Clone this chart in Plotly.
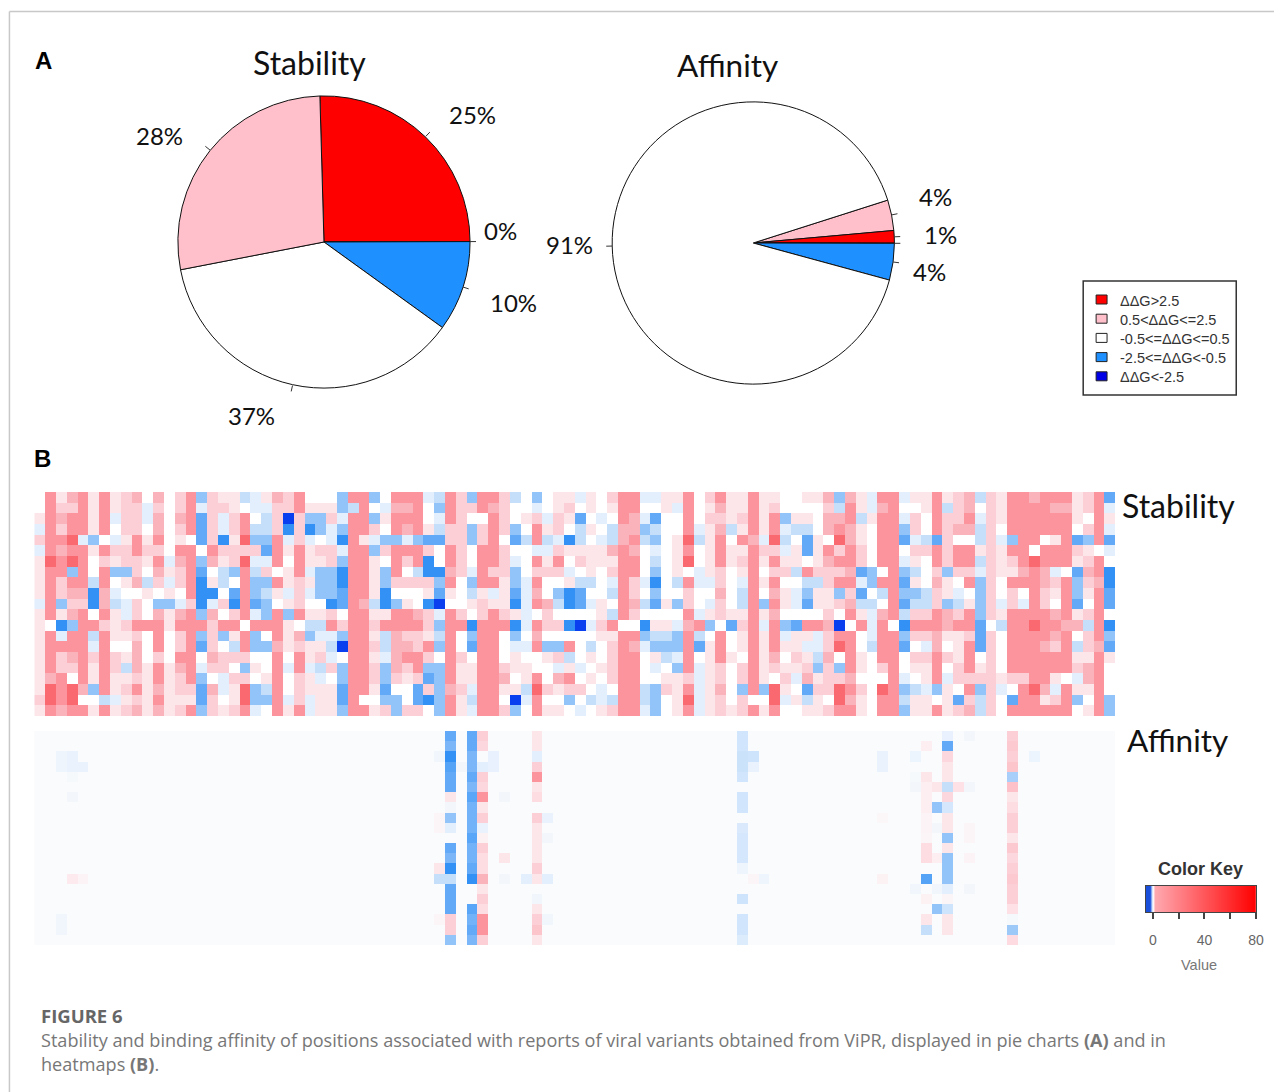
import math
import plotly.graph_objects as go

W, H = 1282, 1092

# ---- pie data -------------------------------------------------------------
CLASS_LABELS = ["ΔΔG>2.5", "0.5<ΔΔG<=2.5", "-0.5<=ΔΔG<=0.5", "-2.5<=ΔΔG<-0.5", "ΔΔG<-2.5"]
CLASS_COLORS = ["#ff0000", "#ffc0cb", "#ffffff", "#1e90ff", "#0000e6"]

STABILITY_CLASSES = [0, 4, 3, 2, 1]
STABILITY_VALUES = [25.4, 0, 10.0, 37.0, 27.6]
STABILITY_TEXT = ["25%", "0%", "10%", "37%", "28%"]
STABILITY_START = -1.6

AFFINITY_CLASSES = [1, 0, 4, 3, 2]
AFFINITY_VALUES = [3.5, 1.45, 0, 4.2, 90.85]
AFFINITY_TEXT = ["4%", "1%", "", "4%", "91%"]
AFFINITY_START = 72.3

# ---- heatmap data: colour level per cell (negative = blue, positive = red) --
STABILITY_HEAT = [
 [0,4,1,3,4,1,4,1,2,3,0,3,0,2,4,-3,2,1,1,-2,-1,1,3,2,4,0,0,0,-3,4,4,-3,0, 4, 4,4,-1,-2,4,2,-3,4,4,2,-2,0,-3,0,1,1,-1,1,0,2,4,4,-1,-1,1,1,4,0,2,4,1,1,4, 1,1,0,0,1,1,3,-3,3,1,-1,4,4,-1,1,1,4,1,2,3,-2,2,1,4,4,3,4,4,4,1,2,4,-4],
 [0,4,2,2,4,1,4,1,2,2,-1,2,0,2,4,-1,2,2,1,0,-1,-1,2,2,4,1,1,1,-3,-2,4,0,-1, 3, 3,4,0,-3,4,2,2,4,3,2,0,0,-1,0,1,2,0,1,0,1,4,4,0,0,1,-1,4,0,1,3,1,1,4, 1,2,0,0,0,0,2,-2,4,1,-1,3,4,0,0,1,4,-2,2,3,0,2,1,4,4,4,4,3,3,1,2,4,-1],
 [1,4,3,4,4,1,4,-1,2,2,-1,3,0,3,4,-4,2,-1,2,4,0,-2,2,-6,2,-3,-3,2,-1,4,4,-3,1, 4, 4,4,0,-1,4,2,0,0,4,2,0,1,2,-1,2,1,-4,0,-1,0,4,3,-1,-4,0,0,4,0,2,2,1,2,4, 1,4,-3,1,1,0,3,3,4,-2,1,4,4,-1,2,0,4,2,2,4,-1,2,1,4,4,4,4,4,4,1,0,4,1],
 [-1,4,2,4,4,1,4,0,2,2,0,3,0,2,4,-4,2,-1,2,4,-2,-2,2,-5,2,-5,-3,-1,-3,4,4,2,0, 4, 3,4,1,-2,2,2,-3,2,4,2,-3,0,4,1,2,0,-2,1,0,-2,3,3,-3,-2,0,0,4,-1,1,3,-2,1,4, 1,4,-1,-2,-2,0,3,4,3,1,0,4,4,-3,2,0,4,2,3,3,-2,2,0,4,4,4,4,4,4,0,2,4,-1],
 [2,4,4,5,-1,-3,0,-1,1,4,1,4,0,1,0,-4,2,-5,1,5,-3,-3,4,-1,2,-1,0,-1,-5,4,1,-1,-3, -3, -1,-3,-4,-4,2,2,-3,2,4,0,-4,-2,4,-2,-1,-5,-2,0,-1,-2,3,4,-2,-3,0,1,5,-2,1,4,0,4,3, -1,5,-2,0,-4,1,0,5,3,1,0,4,4,-4,-1,-2,-4,2,0,0,-2,2,-1,-3,4,4,0,1,4,-4,-3,4,-4],
 [-1,4,3,4,4,1,4,2,2,4,2,2,0,4,4,0,4,2,2,2,2,-4,4,1,4,1,2,2,-1,4,4,-3,2, 4, 4,4,2,0,4,2,0,4,4,2,0,0,-1,-1,2,1,1,1,1,3,4,3,0,-1,0,1,4,0,1,4,1,1,4, 2,2,-1,1,-4,1,4,2,4,2,0,4,4,0,2,2,4,2,4,4,1,2,1,4,4,0,4,4,4,2,1,0,-1],
 [1,5,4,5,4,0,2,1,2,2,1,4,-1,3,4,-3,3,1,2,5,-1,-1,4,0,4,1,1,2,-3,4,4,1,0, 4, 2,4,-5,0,4,2,0,4,4,2,-1,0,4,1,4,0,2,1,1,1,4,4,0,-2,0,1,5,0,1,4,1,2,4, 1,4,1,1,0,1,3,4,4,2,0,4,4,-1,1,0,4,2,4,4,-2,2,1,2,4,5,4,4,4,1,2,4,0],
 [1,4,4,-3,4,0,4,-3,-3,2,0,3,1,2,4,-4,0,-2,-3,4,-2,2,0,1,4,-1,-3,-3,-5,4,4,1,-3, 4, 0,-2,-5,-5,3,2,-1,4,2,2,-3,0,2,2,2,-1,0,1,0,2,4,4,0,-3,0,1,0,-1,1,2,0,1,4, 0,2,2,-2,4,2,2,2,3,-4,-3,0,4,-3,-2,0,2,-3,2,2,-1,2,1,1,3,4,3,-1,0,-4,3,4,-5],
 [1,4,2,4,4,-2,4,0,1,3,-2,2,-1,2,4,-5,1,-2,0,4,-3,-3,4,1,2,1,-3,-3,-5,4,4,1,-3, 2, 2,2,2,-3,4,0,-3,4,4,1,-3,-1,4,0,0,1,-2,-2,0,-1,4,2,-1,-5,0,-2,4,-1,-1,2,0,-1,4, 1,4,0,0,-2,-2,2,4,4,-1,-3,4,4,-4,1,0,3,1,0,4,-3,2,0,4,4,4,3,2,4,-3,2,3,-5],
 [1,4,2,3,3,-5,3,-1,0,0,1,0,1,0,4,-5,-5,0,-4,4,-3,-2,1,-1,2,-1,-3,-3,-4,4,4,1,-5, 0, 0,0,1,-4,1,0,-2,1,-1,1,-4,-1,3,0,-3,-5,-4,0,0,-2,4,2,0,-3,0,0,2,0,0,3,0,-2,4, 0,3,1,-1,-3,1,1,-3,2,-4,0,-2,4,-3,-3,-2,2,1,-1,0,-3,2,0,2,0,4,2,1,4,-3,1,4,-4],
 [-1,4,-3,2,2,-5,3,-2,-1,2,0,-3,-3,-1,2,-5,-1,2,-5,4,-4,-3,0,1,2,0,0,-5,-4,4,3,-2,-5, -3, 1,0,-5,-6,0,0,1,2,1,1,-5,-1,4,3,-2,-5,-4,-1,1,0,4,3,-2,-4,1,-3,2,0,-1,2,0,-2,4, -3,4,1,-1,-4,1,1,2,3,-2,-2,0,4,-4,-2,-2,2,-3,-2,1,-3,2,-1,2,-1,4,2,0,4,-4,0,4,-4],
 [1,4,1,3,4,0,4,1,-1,2,0,3,1,3,4,-3,3,0,2,4,-1,-3,4,-3,4,1,1,2,0,4,4,1,1, 4, 4,3,2,-1,4,2,0,2,4,2,1,-1,0,2,0,0,0,0,1,-2,4,2,0,0,0,0,4,-1,1,2,1,1,4, 1,3,0,0,0,0,2,0,4,1,-1,3,4,-2,2,2,4,3,2,4,-3,2,1,4,4,4,4,3,4,1,2,4,0],
 [1,0,-5,-3,4,4,2,1,2,4,4,4,1,4,4,4,2,4,4,0,4,4,4,1,0,-2,-2,4,2,4,4,2,4, 4, 4,4,2,-3,4,4,-5,4,4,4,-5,-1,4,2,2,-5,-6,-1,2,4,0,0,-5,1,1,-1,3,4,-3,0,-4,2,4, -1,4,-3,-4,4,4,3,-6,0,4,-1,4,0,-5,4,4,4,3,4,4,-4,0,-2,4,4,5,4,4,3,3,-2,4,-5],
 [1,4,-1,4,4,-2,4,1,1,2,0,4,0,2,4,-3,2,-3,1,4,-3,0,4,1,3,-3,-1,-1,-3,4,4,1,-2, 3, 2,2,1,-2,4,0,-3,4,4,0,-3,0,3,0,0,0,0,0,1,1,4,4,-3,-2,-2,-3,4,-2,0,4,0,1,4, 1,4,-1,1,1,-1,2,4,4,0,-1,4,4,-3,2,2,3,1,1,2,-4,2,0,4,4,4,4,3,4,0,2,4,-3],
 [1,4,4,4,4,-1,4,0,0,3,0,4,0,2,4,-4,2,0,-2,4,-3,-3,3,1,2,1,1,-2,-6,4,4,2,-2, 3, 3,2,4,-3,4,0,-4,4,4,0,-1,-1,4,-3,-3,4,0,-2,0,2,4,3,-1,-3,-3,-3,4,-4,1,4,0,1,4, 1,4,1,1,-1,-1,2,5,4,0,-2,4,4,-4,0,-1,3,0,1,4,-4,2,0,4,4,4,3,2,4,-2,2,3,-4],
 [1,4,2,3,4,2,4,2,1,3,0,2,0,4,4,0,3,2,2,2,0,0,4,0,4,1,2,-1,0,4,4,1,-1, 3, 4,4,2,0,4,2,0,4,4,0,1,0,0,1,2,-2,0,1,0,2,4,4,0,1,-2,-1,4,0,1,4,1,0,4, 1,3,0,2,1,-2,3,0,4,1,0,4,4,0,2,2,4,2,1,4,0,2,0,4,4,4,4,4,4,1,1,4,1],
 [1,4,2,2,4,1,4,2,-2,3,1,4,1,3,4,-1,2,2,0,-3,1,0,4,-1,4,-1,-2,2,-3,4,4,2,-3, 3, 2,4,-3,-3,4,1,1,4,4,2,1,1,0,0,-1,1,-1,0,1,2,4,4,0,-1,0,-3,4,-1,1,2,0,2,4, 1,2,1,1,2,-3,2,-3,4,1,0,2,4,0,1,1,4,0,2,4,1,2,0,4,4,4,4,4,4,2,3,4,0],
 [1,3,4,0,4,1,4,1,1,2,1,4,1,2,4,-3,0,-1,2,2,0,1,4,0,2,1,-1,0,-3,4,4,2,-3, 2, 1,2,-4,-3,4,1,1,4,4,3,0,1,4,0,3,4,0,1,0,2,4,4,0,0,1,1,2,-1,1,2,0,2,4, 1,0,2,-1,3,1,2,2,3,0,0,0,4,-1,0,1,4,-1,2,2,2,2,1,2,2,4,4,1,0,-1,3,4,0],
 [1,5,4,5,3,-3,4,1,2,4,1,3,1,2,2,-4,3,-1,1,5,-3,-2,4,0,2,1,1,1,-4,4,4,1,-4, 0, 0,-4,2,-3,3,2,-1,4,4,1,1,-2,5,2,1,2,2,0,-1,0,4,4,-2,-3,2,1,4,-1,1,3,0,-3,4, -3,5,1,0,-4,2,2,5,4,2,0,5,4,-3,-2,-1,-3,1,0,4,-3,2,-1,0,4,5,3,-1,4,1,1,4,0],
 [2,5,4,5,0,0,-2,-1,1,2,1,4,1,1,1,-4,2,0,1,5,-3,-3,4,-1,2,-1,1,1,-4,4,0,0,-3, -3, 0,-4,-5,-3,4,1,-2,4,4,0,-6,-1,4,0,0,-3,0,-2,-1,-2,4,4,-2,-3,0,1,5,-1,1,2,0,2,0, 0,5,-1,1,-2,1,0,5,3,1,0,4,4,-2,1,1,0,1,-4,2,-2,2,0,-4,4,4,1,2,4,-3,0,4,-3],
 [1,4,3,4,4,1,4,1,2,3,1,3,1,2,4,-3,2,1,2,4,-1,0,4,1,4,-1,1,1,-3,4,4,1,2, -3, 2,2,0,-3,4,1,-1,4,4,2,-3,0,4,1,1,0,-1,0,1,2,4,4,-1,-3,0,1,4,-1,1,2,1,2,4, 1,4,0,0,1,1,2,4,4,1,0,4,4,-3,1,1,4,1,2,3,-2,2,0,4,4,4,4,4,4,0,1,4,-3],
]
for _r in STABILITY_HEAT:
    assert len(_r) == 100, len(_r)

# affinity is almost empty: column index -> its 21 rows
AFFINITY_COLUMNS = {
 2:  [0,0,-.5,-.5,0,0,0,0,0,0,0,0,0,0,0,0,0,0,-.4,-.4,0],
 3:  [0,0,-.7,-.7,-.2,0,-.3,0,0,0,0,0,0,0,.8,0,0,0,0,0,0],
 4:  [0,0,0,-.7,0,0,0,0,0,0,0,0,0,0,.4,0,0,0,0,0,0],
 37: [0,0,-.4,0,0,0,0,0,.3,.3,0,0,0,1,-2,0,0,0,.3,0,0],
 38: [-4,-3.5,-5,-4.3,-4,-4,1,-.3,-3,-1,0,-4,-3.5,-5,-2,-4,-4,-4,2,2,-3],
 39: [0,0,0,-.3,0,0,0,0,0,0,0,0,0,0,0,0,0,0,0,0,0],
 40: [-4,-4,-3.5,-3.5,-4,-3.5,-4.2,-3.7,-3.7,-3.7,-4.2,-3.7,-3.7,-4,-5,0,0,-4.2,-3.7,-4,-3.5],
 41: [2,1.6,0,-1,2,1.6,4,1,2,-.7,.5,2,1.4,1.4,3,1,2,1.4,4,4,2],
 42: [0,0,-.8,-.8,0,0,0,0,0,0,0,0,0,0,0,0,0,0,0,0,0],
 43: [0,0,0,0,0,0,-.3,0,0,0,0,0,1,0,-.3,0,0,0,0,0,0],
 45: [0,0,0,0,0,0,0,0,0,0,0,0,0,0,-1,0,0,0,0,0,0],
 46: [1,1,-1,2,4,1,1.4,0,2,1,1,1,1,2,1,0,-.4,1,2,2.4,1],
 47: [0,0,0,0,0,0,0,0,-.7,0,-.3,0,0,0,-1,0,0,0,-.4,0,0],
 65: [-1.6,-1.6,-1.8,-1.8,-1.6,0,-1.6,-1.6,0,-1.3,-1.5,-1.5,-1.5,-.5,0,0,-1.7,0,-1.6,-1.6,-1.2],
 66: [0,0,-1.7,-.7,0,0,0,0,0,0,0,0,0,0,.3,0,0,0,0,0,0],
 67: [0,0,0,0,0,0,0,0,0,0,0,0,0,0,-.5,0,0,0,0,0,0],
 78: [0,0,-.7,-.7,0,0,0,0,.2,0,0,0,0,0,.5,0,0,0,0,0,0],
 81: [0,0,-.6,0,-.2,-.3,0,0,0,0,0,0,0,0,0,-.4,0,0,0,0,0],
 82: [0,.6,0,0,1,.6,.6,.6,.4,.4,.3,1.4,1.4,0,-4.3,0,.5,0,1,-2,0],
 83: [0,0,0,0,0,1,0,-3,0,-.3,0,0,.6,0,0,-.4,0,-3,0,0,0],
 84: [-.8,-4,1.6,1,1,-2,1.6,-1.5,1,1,-3,1,-3,-3,-3,-1,.3,-1.7,1,1,0],
 85: [0,0,0,0,0,1.2,0,0,0,0,0,0,0,0,0,0,0,0,0,0,0],
 86: [-.3,0,0,0,0,-.3,0,0,0,.3,.3,0,.4,0,0,-.3,0,0,0,0,0],
 90: [2,2.2,2,2.4,-2.6,2.5,1,1.4,2,2,1,2.2,1.6,2,2.2,2,2,1.2,-.2,-2.8,1.5],
 92: [0,0,-.6,0,0,0,0,0,0,0,0,0,0,0,0,0,0,0,0,0,0],
}
N_COLS, N_ROWS = 100, 21

# ---- colour key data --------------------------------------------------------
KEY_VALUES = [-5.4, -2.5, -1, 0.3, 1.5, 10, 40, 80]
KEY_TICKS = [0, 20, 40, 60, 80]
KEY_TICK_TEXT = ["0", "", "40", "", "80"]

CAPTION_HEAD = "FIGURE 6"
CAPTION_LINES = [
    "Stability and binding affinity of positions associated with reports of viral variants obtained from ViPR, displayed in pie charts <b>(A)</b> and in",
    "heatmaps <b>(B)</b>.",
]

# ---- helpers -----------------------------------------------------------------
fx = lambda px: px / W
fy = lambda py: 1 - py / H
annotations, shapes = [], []


def text(px, py, s, size, color="#111111", family="Lato", anchor="center", va="middle"):
    annotations.append(dict(x=fx(px), y=fy(py), xref="paper", yref="paper", text=s, showarrow=False,
                            xanchor=anchor, yanchor=va, align="left",
                            font=dict(size=size, color=color, family=family)))


def line(x0, y0, x1, y1, color, width=1):
    shapes.append(dict(type="line", xref="paper", yref="paper", x0=fx(x0), y0=fy(y0), x1=fx(x1), y1=fy(y1),
                       line=dict(color=color, width=width)))


def heat_scale(zero):
    stops = [(-6, "#0a3ff0"), (-5, "#3391f6"), (-4, "#62aaf7"), (-3, "#93c4f9"), (-2, "#c5dffb"),
             (-1, "#e3effd"), (0, zero), (1, "#fde6ea"), (2, "#fccfd6"), (3, "#fbb3bb"),
             (4, "#fb949c"), (5, "#fa6870")]
    return [[(v + 6) / 11, c] for v, c in stops]


fig = go.Figure()


def add_pie(values, classes, start, cx, cy, r, labels_at, texts):
    fig.add_trace(go.Pie(values=values, labels=[CLASS_LABELS[c] for c in classes],
                         marker=dict(colors=[CLASS_COLORS[c] for c in classes], line=dict(color="#111111", width=1)),
                         sort=False, direction="clockwise", rotation=start, textinfo="none", hoverinfo="skip",
                         showlegend=False,
                         domain=dict(x=[fx(cx - r), fx(cx + r)], y=[fy(cy + r), fy(cy - r)])))
    angle = start
    total = sum(values)
    for v, t, pos in zip(values, texts, labels_at):
        mid = math.radians(angle + v / total * 180)
        angle += v / total * 360
        line(cx + r * math.sin(mid), cy - r * math.cos(mid),
             cx + (r + 6) * math.sin(mid), cy - (r + 6) * math.cos(mid), "#333333", 1)
        if t:
            text(pos[0], pos[1], t, 24)


add_pie(STABILITY_VALUES, STABILITY_CLASSES, STABILITY_START, 326, 242, 147,
        [(475, 115), (504, 230), (517, 302), (253, 415), (160, 135)], STABILITY_TEXT)
add_pie(AFFINITY_VALUES, AFFINITY_CLASSES, AFFINITY_START, 758, 243, 142,
        [(941, 196), (946, 234), (0, 0), (935, 271), (573, 245)], AFFINITY_TEXT)

# heatmaps
affinity_z = [[AFFINITY_COLUMNS.get(c, [0] * N_ROWS)[r] for c in range(N_COLS)] for r in range(N_ROWS)]
fig.add_trace(go.Heatmap(z=STABILITY_HEAT, zmin=-6, zmax=5, colorscale=heat_scale("#ffffff"),
                         showscale=False, hoverinfo="skip", xaxis="x", yaxis="y"))
fig.add_trace(go.Heatmap(z=affinity_z, zmin=-6, zmax=5, colorscale=heat_scale("#fafbfc"),
                         showscale=False, hoverinfo="skip", xaxis="x2", yaxis="y2"))
# colour key
fig.add_trace(go.Heatmap(z=[KEY_VALUES], x=KEY_VALUES, zmin=-5.4, zmax=80, zsmooth="best",
                         colorscale=[[0, "#1a4fdc"], [(2.9) / 85.4, "#1a4fdc"], [(4.4) / 85.4, "#cfe2fb"],
                                     [(5.7) / 85.4, "#ffffff"], [(6.9) / 85.4, "#ffa9b0"], [1, "#ff0000"]],
                         showscale=False, hoverinfo="skip", xaxis="x3", yaxis="y3"))

hidden = dict(visible=False, fixedrange=True)
layout_axes = dict(
    xaxis=dict(domain=[fx(34.5), fx(1122)], range=[-0.5, N_COLS - 0.5], anchor="y", **hidden),
    yaxis=dict(domain=[fy(716), fy(492)], range=[N_ROWS - 0.5, -0.5], anchor="x", **hidden),
    xaxis2=dict(domain=[fx(34.5), fx(1122)], range=[-0.5, N_COLS - 0.5], anchor="y2", **hidden),
    yaxis2=dict(domain=[fy(945), fy(731)], range=[N_ROWS - 0.5, -0.5], anchor="x2", **hidden),
    xaxis3=dict(domain=[fx(1153), fx(1264)], range=[-5.4, 80], anchor="y3", tickmode="array",
                tickvals=KEY_TICKS, ticktext=KEY_TICK_TEXT, ticks="outside", ticklen=6, tickwidth=1.5,
                tickcolor="#444444", showline=True, linecolor="#444444", linewidth=1, mirror=True,
                showgrid=False, zeroline=False, ticklabelstandoff=9,
                tickfont=dict(size=14, color="#666666", family="Liberation Sans")),
    yaxis3=dict(domain=[fy(912), fy(886)], range=[-0.5, 0.5], anchor="x3", showticklabels=False, ticks="",
                showgrid=False, zeroline=False, showline=True, linecolor="#444444", mirror=True),
)

# frame
line(9.5, 11.5, 9.5, H, "#c8c8c8", 1.5)
line(9.5, 11.5, W, 11.5, "#c8c8c8", 1.5)

# panel text
text(33, 60, "<b>A</b>", 24, "#000000", "Liberation Sans", "left")
text(32, 458, "<b>B</b>", 24, "#000000", "Liberation Sans", "left")
text(311, 62, "Stability", 32)
text(732, 65, "Affinity", 31.5)
text(1127, 505, "Stability", 32, anchor="left")
text(1132, 740, "Affinity", 31.5, anchor="left")

# legend box
shapes.append(dict(type="rect", xref="paper", yref="paper", x0=fx(1090), x1=fx(1244), y0=fy(281), y1=fy(395),
                   line=dict(color="#333333", width=1.5), fillcolor="#ffffff"))
for i, (lab, col) in enumerate(zip(CLASS_LABELS, CLASS_COLORS)):
    cy = 299.5 + i * 19.2
    shapes.append(dict(type="rect", xref="paper", yref="paper", x0=fx(1103), x1=fx(1114), y0=fy(cy - 4.5), y1=fy(cy + 4.5),
                       line=dict(color="#222222", width=1), fillcolor=col))
    text(1125, cy + 1, lab, 14.5, "#333333", "Liberation Sans", "left")

# colour key labels
text(1208, 869, "<b>Color Key</b>", 18, "#333333", "Liberation Sans")
text(1207, 965, "Value", 14.5, "#777777", "Liberation Sans")

# caption
text(39.5, 1015, "<b>" + CAPTION_HEAD + "</b>", 18.5, "#666666", "Open Sans", "left")
text(39.5, 1040, CAPTION_LINES[0], 18.1, "#777777", "Open Sans", "left")
text(39.5, 1064, CAPTION_LINES[1], 18.1, "#777777", "Open Sans", "left")

fig.update_layout(width=W, height=H, autosize=False, margin=dict(l=0, r=0, t=0, b=0),
                  paper_bgcolor="#ffffff", plot_bgcolor="#ffffff", showlegend=False,
                  annotations=annotations, shapes=shapes, **layout_axes)

fig.write_html("out.html", config=dict(displayModeBar=False, responsive=False),
               default_width="1282px", default_height="1092px",
               post_script="document.body.style.margin='0';document.body.style.overflow='hidden';")
